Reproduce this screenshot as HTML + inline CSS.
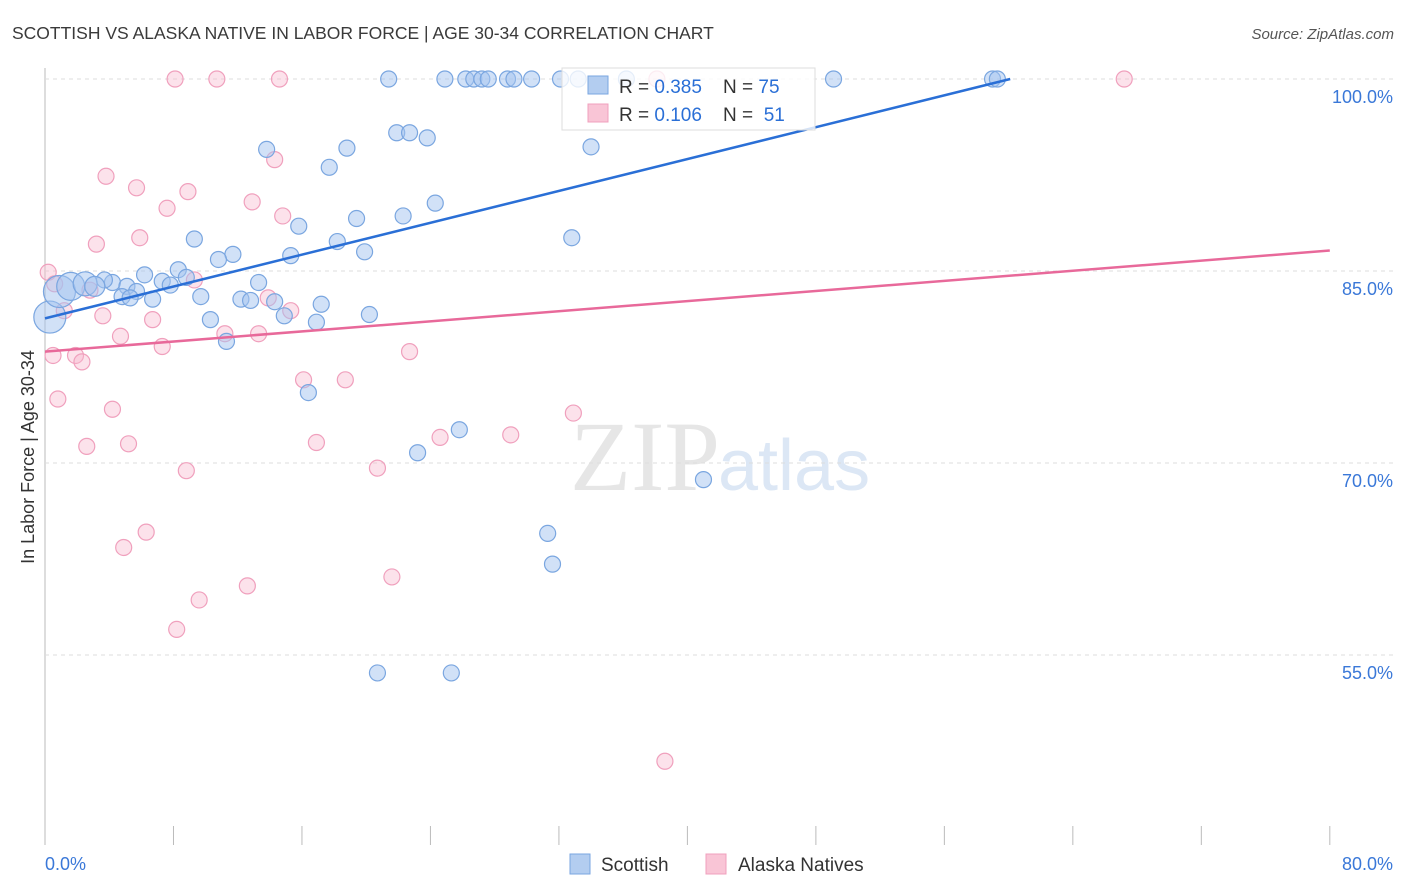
<!DOCTYPE html>
<html><head><meta charset="utf-8"><style>
body{margin:0;background:#fff;font-family:"Liberation Sans",sans-serif;}
svg{display:block}
text{white-space:pre}
</style></head><body>
<svg id="chart" width="1406" height="892">
<text x="12" y="39" font-size="17.5" fill="#3a3a3a">SCOTTISH VS ALASKA NATIVE IN LABOR FORCE | AGE 30-34 CORRELATION CHART</text>
<text x="1394" y="39" font-size="15" fill="#555" font-style="italic" text-anchor="end">Source: ZipAtlas.com</text>
<text x="34" y="457" font-size="18" fill="#333" text-anchor="middle" transform="rotate(-90 34 457)">In Labor Force | Age 30-34</text>
<text x="720" y="490" font-size="100" fill="#e6e6e6" text-anchor="end" font-family="Liberation Serif,serif">ZIP</text>
<text x="718" y="490" font-size="72" fill="#dce7f5">atlas</text>
<g id="grid"></g><g id="marks"></g><g id="lines"></g>
<g>
<rect x="562" y="68" width="253" height="62" fill="#fff" fill-opacity="0.8" stroke="#ddd"/>
<rect x="588" y="76" width="20" height="18" fill="#b3cdf0" stroke="#7aa6e0"/>
<text x="619" y="93" font-size="19" fill="#333" xml:space="preserve">R = <tspan fill="#2a6fd6">0.385</tspan>    N = <tspan fill="#2a6fd6">75</tspan></text>
<rect x="588" y="104" width="20" height="18" fill="#f9c5d6" stroke="#f0a0bd"/>
<text x="619" y="121" font-size="19" fill="#333" xml:space="preserve">R = <tspan fill="#2a6fd6">0.106</tspan>    N =  <tspan fill="#2a6fd6">51</tspan></text>
</g>
<g>
<rect x="570" y="854" width="20" height="20" fill="#b3cdf0" stroke="#7aa6e0"/>
<text x="601" y="871" font-size="19" fill="#333">Scottish</text>
<rect x="706" y="854" width="20" height="20" fill="#f9c5d6" stroke="#f0a0bd"/>
<text x="738" y="871" font-size="19" fill="#333">Alaska Natives</text>
</g>
</svg>
<script>
const blueX=[21.4,24.9,26.2,26.7,27.2,27.6,28.8,29.2,30.3,32.1,33.2,36.2,49.1,59.0,59.3,21.9,22.7,23.8,34.0,13.8,18.8,17.7,24.3,22.3,19.4,15.8,9.3,18.2,32.8,19.9,11.7,10.8,15.3,8.3,6.2,8.8,7.3,7.8,13.3,4.2,3.7,5.1,5.7,4.8,5.3,6.7,9.7,12.2,12.8,14.3,17.2,10.3,14.9,16.9,20.2,11.3,16.4,25.8,23.2,41.0,31.3,31.6,20.7,25.3,0.3,0.9,1.6,2.5,3.1];
const blueY=[100,100,100,100,100,100,100,100,100,100,100,100,100,100,100,95.8,95.8,95.4,94.7,94.5,94.6,93.1,90.3,89.3,89.1,88.5,87.5,87.3,87.6,86.5,86.3,85.9,86.2,85.1,84.7,84.5,84.2,83.9,84.1,84.1,84.3,83.8,83.4,83.0,82.9,82.8,83.0,82.8,82.7,82.6,82.4,81.2,81.5,81.0,81.6,79.5,75.5,72.6,70.8,68.7,64.5,62.1,53.6,53.6,81.4,83.4,83.8,84.0,83.8];
const blueR=[8,8,8,8,8,8,8,8,8,8,8,8,8,8,8,8,8,8,8,8,8,8,8,8,8,8,8,8,8,8,8,8,8,8,8,8,8,8,8,8,8,8,8,8,8,8,8,8,8,8,8,8,8,8,8,8,8,8,8,8,8,8,8,8,16,16,14,12,10];
const pinkX=[8.1,10.7,14.6,67.2,38.1,14.3,3.8,5.7,8.9,7.6,12.9,14.8,5.9,3.2,0.2,0.6,2.8,9.3,13.9,15.3,1.2,3.6,6.7,11.2,13.3,4.7,7.3,0.5,1.9,2.3,22.7,16.1,18.7,0.8,4.2,24.6,29.0,32.9,2.6,5.2,16.9,8.8,20.7,6.3,4.9,21.6,12.6,9.6,8.2,38.6];
const pinkY=[100,100,100,100,100,93.7,92.4,91.5,91.2,89.9,90.4,89.3,87.6,87.1,84.9,84.0,83.5,84.3,82.9,81.9,81.9,81.5,81.2,80.1,80.1,79.9,79.1,78.4,78.4,77.9,78.7,76.5,76.5,75.0,74.2,72.0,72.2,73.9,71.3,71.5,71.6,69.4,69.6,64.6,63.4,61.1,60.4,59.3,57.0,46.7];
const blueLine=[[0,81.3],[60.1,100]];
const pinkLine=[[0,78.7],[80,86.6]];
const yTicks=[100,85,70,55];
const yLabels=["100.0%","85.0%","70.0%","55.0%"];
const xTickVals=[0,8,16,24,32,40,48,56,64,72,80];
const NS="http://www.w3.org/2000/svg";
const X=v=>45+v*16.06, Y=v=>79+(100-v)*12.8;
function mk(tag,attrs,parent){const e=document.createElementNS(NS,tag);for(const k in attrs)e.setAttribute(k,attrs[k]);parent.appendChild(e);return e;}
const grid=document.getElementById('grid'),marks=document.getElementById('marks'),lines=document.getElementById('lines');
let ax=mk('line',{x1:45,y1:68,x2:45,y2:845,stroke:'#bbb'},grid);

yTicks.forEach((t,i)=>{
 let g=mk('line',{x1:45,x2:1394,y1:Y(t),y2:Y(t),stroke:'#ddd','stroke-dasharray':'4,4'},grid);
 
 let l=mk('text',{x:1393,y:Y(t)+24,'font-size':18,fill:'#3a78d8','text-anchor':'end'},grid);l.textContent=yLabels[i];
 
});
xTickVals.forEach(t=>{
 let k=mk('line',{x1:X(t),x2:X(t),y1:826,y2:845,stroke:'#bbb'},grid);
 
});
let x0=mk('text',{x:45,y:870,'font-size':18,fill:'#3a78d8'},grid);x0.textContent='0.0%';

let x1=mk('text',{x:1393,y:870,'font-size':18,fill:'#3a78d8','text-anchor':'end'},grid);x1.textContent='80.0%';

pinkX.forEach((v,i)=>{
 let c=mk('circle',{cx:X(v),cy:Y(pinkY[i]),r:8,fill:'rgba(248,183,205,0.4)',stroke:'#f0a0bd','stroke-width':1.2},marks);
 
});
blueX.forEach((v,i)=>{
 let c=mk('circle',{cx:X(v),cy:Y(blueY[i]),r:blueR[i],fill:'rgba(164,196,240,0.5)',stroke:'#7aa6e0','stroke-width':1.2},marks);
 
});
let bl=mk('line',{x1:X(blueLine[0][0]),y1:Y(blueLine[0][1]),x2:X(blueLine[1][0]),y2:Y(blueLine[1][1]),stroke:'#2a6fd6','stroke-width':2.5},lines);

let pl=mk('line',{x1:X(pinkLine[0][0]),y1:Y(pinkLine[0][1]),x2:X(pinkLine[1][0]),y2:Y(pinkLine[1][1]),stroke:'#e8699a','stroke-width':2.5},lines);

</script>
</body></html>
